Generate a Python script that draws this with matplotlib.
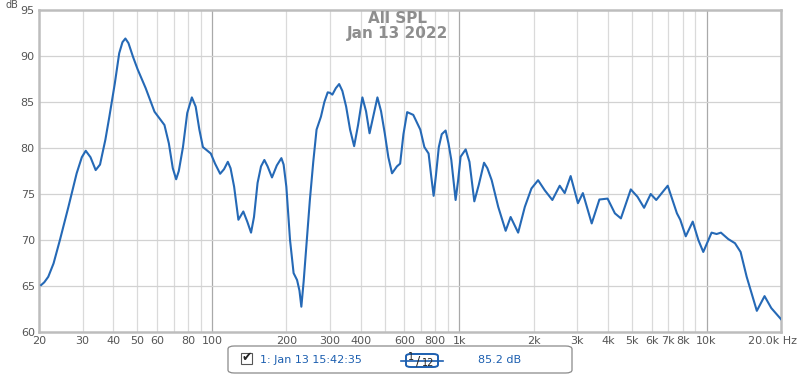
import numpy as np
import matplotlib.pyplot as plt
from matplotlib.patches import FancyBboxPatch, Rectangle
from matplotlib.lines import Line2D

# frequency response
freq = [20.4, 21.0, 21.8, 22.9, 24.3, 26.3, 28.4, 29.8, 30.9, 32.3, 33.9, 35.3,
        37.1, 38.5, 40.5, 42.2, 43.5, 44.7, 46.0, 48.0, 50.1, 54.0, 58.6, 64.3,
        67.0, 69.5, 71.7, 73.5, 76.4, 79.5, 83.0, 86.0, 89.0, 92.0, 99.0, 103,
        108, 112, 116, 119, 123, 128, 134, 139, 144, 148, 153, 158, 163, 168,
        175, 183, 191, 195, 200, 207, 214, 221, 226, 230, 235, 241, 249, 257,
        265, 276, 285, 294, 300, 307, 317, 327, 337, 349, 362, 376, 390, 406,
        420, 434, 450, 467, 483, 500, 517, 535, 560, 577, 595, 616, 652, 696,
        723, 752, 770, 788, 805, 827, 850, 881, 905, 929, 967, 990, 1013, 1062,
        1100, 1151, 1200, 1260, 1300, 1353, 1438, 1541, 1614, 1731, 1842, 1959,
        2084, 2218, 2380, 2549, 2670, 2822, 3020, 3162, 3433, 3688, 3980, 4260,
        4505, 4940, 5257, 5591, 5946, 6260, 6967, 7590, 7830, 8240, 8794, 9265,
        9700, 10480, 10980, 11430, 12240, 13030, 13730, 14530, 15970, 17160,
        18270, 19990]
spl = [65.1, 65.4, 66.0, 67.45, 70.0, 73.6, 77.25, 79.0, 79.7, 79.0, 77.6, 78.2,
       80.9, 83.4, 87.0, 90.3, 91.5, 91.9, 91.4, 89.9, 88.55, 86.5, 83.95, 82.5,
       80.5, 77.8, 76.6, 77.5, 80.1, 83.8, 85.5, 84.5, 82.0, 80.1, 79.4, 78.3,
       77.2, 77.7, 78.5, 77.8, 75.8, 72.2, 73.1, 72.0, 70.8, 72.5, 76.2, 78.0,
       78.7, 78.0, 76.8, 78.1, 78.9, 78.2, 75.8, 70.0, 66.4, 65.65, 64.5, 62.75,
       65.5, 69.3, 74.35, 78.5, 82.0, 83.4, 85.0, 86.05, 86.0, 85.8, 86.5, 86.95,
       86.2, 84.5, 82.0, 80.2, 82.5, 85.5, 84.0, 81.6, 83.5, 85.5, 84.0, 81.6,
       79.0, 77.25, 78.0, 78.3, 81.5, 83.9, 83.6, 82.0, 80.1, 79.4, 77.0, 74.8,
       77.0, 80.1, 81.5, 81.9, 80.5, 78.7, 74.35, 76.5, 79.05, 79.85, 78.5, 74.2,
       76.0, 78.4, 77.8, 76.5, 73.6, 71.0, 72.5, 70.8, 73.6, 75.6, 76.5, 75.4,
       74.35, 75.9, 75.1, 76.95, 74.0, 75.1, 71.8, 74.4, 74.5, 72.9, 72.35, 75.5,
       74.7, 73.5, 75.0, 74.35, 75.9, 72.9, 72.2, 70.4, 72.0, 70.0, 68.7, 70.8,
       70.65, 70.8, 70.1, 69.65, 68.7, 66.0, 62.3, 63.9, 62.6, 61.4]

xtick_vals = [20, 30, 40, 50, 60, 80, 100, 200, 300, 400, 600, 800, 1000, 2000,
              3000, 4000, 5000, 6000, 7000, 8000, 10000]
xtick_labels = ['20', '30', '40', '50', '60', '80', '100', '200', '300', '400',
                '600', '800', '1k', '2k', '3k', '4k', '5k', '6k', '7k', '8k',
                '10k']
yticks = [60, 65, 70, 75, 80, 85, 90, 95]

W, H = 800, 376
fig = plt.figure(figsize=(W / 100, H / 100), dpi=100)
ax = fig.add_axes([39 / W, 1 - 332 / H, 742 / W, 322 / H])
ax.set_xscale('log')
ax.set_xlim(20, 20000)
ax.set_ylim(60, 95)

# grid: minor lines light, decades darker
for dec in [10, 100, 1000, 10000]:
    for m in range(1, 10):
        f = dec * m
        if f <= 20 or f >= 20000:
            continue
        col = '#a9a9a9' if m == 1 else '#dadada'
        ax.axvline(f, color=col, lw=0.9, zorder=1)
for y in yticks[1:-1]:
    ax.axhline(y, color='#d2d2d2', lw=0.9, zorder=1)

ax.plot(freq, spl, color='#2569b6', lw=1.5, solid_joinstyle='round', zorder=3)

for s in ax.spines.values():
    s.set_color('#bdbdbd')
    s.set_linewidth(1.8)

ax.set_xticks(xtick_vals)
ax.set_xticklabels(xtick_labels)
ax.xaxis.set_minor_locator(plt.NullLocator())
ax.set_yticks(yticks)
ax.tick_params(length=0, labelsize=8, colors='#555555', pad=3)

# last frequency label sits flush right like the original
fig.text(797 / W, 1 - 341 / H, '20.0k Hz', ha='right', va='center',
         fontsize=8, color='#555555')
fig.text(6 / W, 1 - 0.5 / H, 'dB', fontsize=7, color='#555555', va='top')
fig.text(398 / W, 1 - 26 / H, 'All SPL\nJan 13 2022', ha='center', va='center',
         fontsize=11, fontweight='bold', color='#8e8e8e', linespacing=1.05)

# legend box at the bottom
blue = '#1c5fb0'
fig.patches.append(FancyBboxPatch((228 / W, 1 - 373 / H), 344 / W, 27 / H,
                                  boxstyle='round,pad=0,rounding_size=0.008',
                                  transform=fig.transFigure, fc='white',
                                  ec='#8a8a8a', lw=0.9))
fig.patches.append(Rectangle((241 / W, 1 - 364 / H), 11 / W, 11 / H,
                             transform=fig.transFigure, fc='white',
                             ec='#555555', lw=0.8))
fig.text(247 / W, 1 - 357 / H, '\u2714', ha='center', va='center',
         fontsize=9, color='#222222')
fig.text(260 / W, 1 - 360 / H, '1: Jan 13 15:42:35', ha='left', va='center',
         fontsize=8, color=blue)
fig.lines.append(Line2D([401 / W, 443 / W], [1 - 361 / H, 1 - 361 / H],
                        transform=fig.transFigure, color=blue, lw=1.2))
fig.patches.append(FancyBboxPatch((406 / W, 1 - 367 / H), 32 / W, 13 / H,
                                  boxstyle='round,pad=0,rounding_size=0.006',
                                  transform=fig.transFigure, fc='white',
                                  ec=blue, lw=1.4))
fig.text(411 / W, 1 - 357 / H, '1', ha='center', va='center', fontsize=7, color='#222222')
fig.text(418 / W, 1 - 361 / H, '/', ha='center', va='center', fontsize=9, color='#222222')
fig.text(428 / W, 1 - 363 / H, '12', ha='center', va='center', fontsize=7, color='#222222')
fig.text(500 / W, 1 - 360 / H, '85.2 dB', ha='center', va='center',
         fontsize=8, color=blue)

fig.savefig('out.png', dpi=100)
